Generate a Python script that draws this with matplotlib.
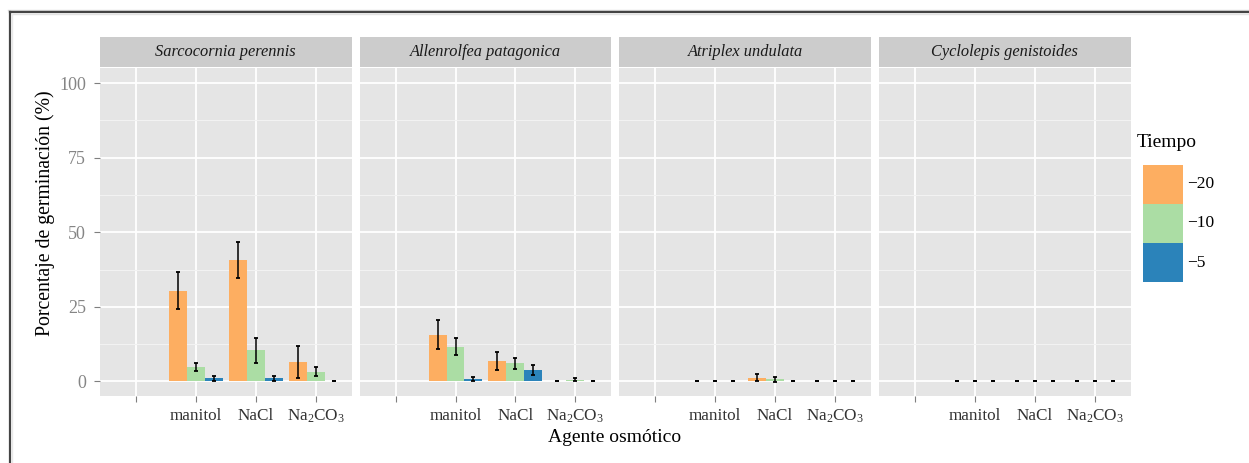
import numpy as np
import matplotlib
matplotlib.use("Agg")
import matplotlib.pyplot as plt
from matplotlib.patches import Rectangle
from matplotlib.lines import Line2D

plt.rcParams["font.family"] = ["Liberation Serif", "DejaVu Serif"]
plt.rcParams["mathtext.fontset"] = "custom"
plt.rcParams["mathtext.rm"] = "Liberation Serif"
plt.rcParams["mathtext.it"] = "Liberation Serif:italic"

# ---- data -------------------------------------------------------------
species = ["Sarcocornia perennis", "Allenrolfea patagonica",
           "Atriplex undulata", "Cyclolepis genistoides"]
agents = ["", "manitol", "NaCl", "Na$_2$CO$_3$"]
tiempos = ["\u221220", "\u221210", "\u22125"]
colors = ["#FDAE61", "#ABDDA4", "#2B83BA"]

# mean germination (%) per agent (rows) and time (columns); NaN = not tested
mean_sarcocornia = [[np.nan, np.nan, np.nan],
                    [30.4, 4.9, 1.0],
                    [40.8, 10.5, 1.0],
                    [6.5, 3.2, 0.0]]
err_sarcocornia = [[np.nan, np.nan, np.nan],
                   [6.2, 1.4, 0.8],
                   [6.0, 4.2, 0.8],
                   [5.5, 1.5, 0.0]]

mean_allenrolfea = [[np.nan, np.nan, np.nan],
                    [15.7, 11.7, 0.7],
                    [6.9, 6.0, 3.7],
                    [0.0, 0.6, 0.0]]
err_allenrolfea = [[np.nan, np.nan, np.nan],
                   [5.0, 2.9, 0.7],
                   [3.0, 2.0, 1.7],
                   [0.0, 0.6, 0.0]]

mean_atriplex = [[np.nan, np.nan, np.nan],
                 [0.0, 0.0, 0.0],
                 [1.3, 0.7, 0.0],
                 [0.0, 0.0, 0.0]]
err_atriplex = [[np.nan, np.nan, np.nan],
                [0.0, 0.0, 0.0],
                [1.2, 0.8, 0.0],
                [0.0, 0.0, 0.0]]

mean_cyclolepis = [[np.nan, np.nan, np.nan],
                   [0.0, 0.0, 0.0],
                   [0.0, 0.0, 0.0],
                   [0.0, 0.0, 0.0]]
err_cyclolepis = [[np.nan, np.nan, np.nan],
                  [0.0, 0.0, 0.0],
                  [0.0, 0.0, 0.0],
                  [0.0, 0.0, 0.0]]

means = [mean_sarcocornia, mean_allenrolfea, mean_atriplex, mean_cyclolepis]
errs = [err_sarcocornia, err_allenrolfea, err_atriplex, err_cyclolepis]

# ---- layout (pixels) ----------------------------------------------------
W, H = 1249, 463
fig = plt.figure(figsize=(W / 100, H / 100), dpi=100)
fig.patch.set_facecolor("white")


def fx(px):
    return px / W


def fy(py):
    return 1 - py / H


# window frame
fig.add_artist(Line2D([fx(8), fx(W)], [fy(10), fy(10)], color="#D9D9D9", lw=1.0))
fig.add_artist(Line2D([fx(9.5), fx(W)], [fy(12), fy(12)], color="#444444", lw=1.6))
fig.add_artist(Line2D([fx(9.5), fx(9.5)], [fy(12), fy(H)], color="#444444", lw=1.6))
fig.add_artist(Line2D([fx(11.5), fx(W)], [fy(14), fy(14)], color="#E3E3E3", lw=1.0))
fig.add_artist(Line2D([fx(11.5), fx(11.5)], [fy(14), fy(H)], color="#E8E8E8", lw=1.0))

panel_left = [100.0, 359.7, 619.3, 879.0]
panel_w = 251.5
panel_top, panel_bot = 68.3, 395.7
strip_top, strip_bot = 37.3, 66.7

x = np.arange(1, len(agents) + 1)
bar_w = 0.3

for k, sp in enumerate(species):
    ax = fig.add_axes([fx(panel_left[k]), fy(panel_bot),
                       panel_w / W, (panel_bot - panel_top) / H])
    ax.set_facecolor("#E5E5E5")
    ax.set_xlim(0.4, 4.6)
    ax.set_ylim(-4.8, 105)
    ax.set_yticks([0, 25, 50, 75, 100])
    ax.set_yticks([12.5, 37.5, 62.5, 87.5], minor=True)
    ax.set_xticks(x)
    ax.set_xticklabels(agents)
    ax.grid(True, which="major", color="white", lw=1.3)
    ax.grid(True, which="minor", axis="y", color="#F2F2F2", lw=0.8)
    ax.set_axisbelow(True)
    for s in ax.spines.values():
        s.set_visible(False)
    ax.tick_params(axis="both", which="major", length=4, width=0.8,
                   color="#7F7F7F")
    ax.tick_params(axis="y", which="minor", length=0)
    ax.tick_params(axis="y", pad=6, labelcolor="#858585", labelsize=13)
    ax.tick_params(axis="x", pad=4.5, labelcolor="#333333", labelsize=12.3)
    if k > 0:
        ax.tick_params(axis="y", which="both", left=False, labelleft=False)

    m = np.array(means[k], dtype=float)
    e = np.array(errs[k], dtype=float)
    for j in range(len(tiempos)):
        xs = x + (j - 1) * bar_w
        ax.bar(xs, np.nan_to_num(m[:, j]), width=bar_w, color=colors[j],
               linewidth=0, zorder=2)
        ok = ~np.isnan(m[:, j])
        ax.errorbar(xs[ok], m[ok, j], yerr=e[ok, j], fmt="none",
                    ecolor="black", elinewidth=1.1, capsize=1.7,
                    capthick=1.3, zorder=3)

    # facet strip
    sax = fig.add_axes([fx(panel_left[k]), fy(strip_bot),
                        panel_w / W, (strip_bot - strip_top) / H])
    sax.set_facecolor("#CCCCCC")
    sax.set_xticks([])
    sax.set_yticks([])
    for s in sax.spines.values():
        s.set_visible(False)
    sax.text(0.5, 0.5, sp, ha="center", va="center", style="italic",
             fontsize=11.8, color="#1A1A1A", transform=sax.transAxes)

# axis titles
fig.text(fx(615), fy(438), "Agente osm\u00f3tico", ha="center", va="center",
         fontsize=14, color="black")
fig.text(fx(45), fy(213), "Porcentaje de germinaci\u00f3n (%)", ha="center",
         va="center", rotation=90, fontsize=14.2, color="black")

# legend
fig.text(fx(1137), fy(143), "Tiempo", ha="left", va="center", fontsize=14,
         color="black")
key_top = 164.5
key_h = 39.3
for j, lab in enumerate(tiempos):
    y0 = key_top + j * key_h
    fig.add_artist(Rectangle((fx(1143.3), fy(y0 + key_h)), 39.3 / W, key_h / H,
                             transform=fig.transFigure, facecolor=colors[j],
                             edgecolor="none"))
    fig.text(fx(1187), fy(y0 + key_h / 2), lab, ha="left", va="center",
             fontsize=12.5, color="black")

fig.savefig("out.png", dpi=100)
